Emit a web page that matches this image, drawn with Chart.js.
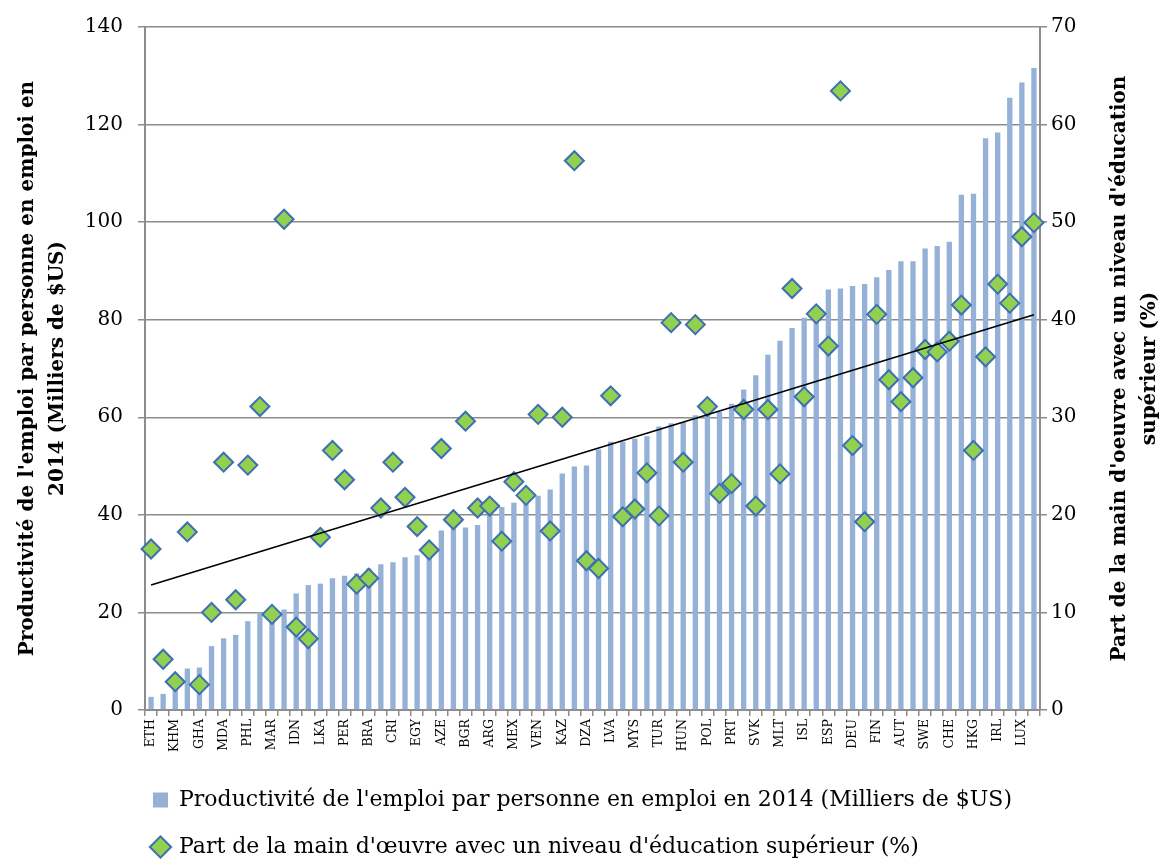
<!DOCTYPE html>
<html><head><meta charset="utf-8">
<script src="https://cdn.jsdelivr.net/npm/chart.js@4.4.1/dist/chart.umd.min.js"></script>
<style>html,body{margin:0;padding:0;background:#fff}</style>
</head><body>
<canvas id="c" width="1164" height="861"></canvas>
<script>
const categories = ["ETH","TZA","KHM","KEN","GHA","VNM","MDA","IND","PHL","BOL","MAR","UKR","IDN","GTM","LKA","ARM","PER","CHN","BRA","COL","CRI","JAM","EGY","SRB","AZE","MKD","BGR","ZAF","ARG","THA","MEX","ROU","VEN","URY","KAZ","RUS","DZA","BLR","LVA","CHL","MYS","HRV","TUR","EST","HUN","LTU","POL","GRC","PRT","KOR","SVK","CZE","MLT","ISR","ISL","GBR","ESP","CAN","DEU","ITA","FIN","FRA","AUT","DNK","SWE","AUS","CHE","BEL","HKG","USA","IRL","NOR","LUX","SGP"];
const productivity = [2.7,3.3,6.5,8.5,8.7,13.1,14.7,15.4,18.2,20.0,20.3,20.6,23.9,25.6,25.9,27.0,27.5,28.0,29.0,29.9,30.3,31.3,31.7,33.5,36.8,37.2,37.4,37.9,40.2,41.6,42.5,43.5,43.9,45.2,48.5,49.9,50.1,53.4,55.0,55.0,55.6,56.1,58.1,58.8,59.0,60.4,60.8,61.1,62.8,65.7,68.6,72.8,75.7,78.3,80.4,81.8,86.2,86.4,86.9,87.3,88.7,90.2,92.0,92.0,94.6,95.1,96.0,105.6,105.8,117.2,118.4,125.5,128.6,131.6];
const tertiaryShare = [16.5,5.2,2.9,18.25,2.6,10.0,25.4,11.3,25.1,31.1,9.8,50.3,8.5,7.3,17.7,26.6,23.6,12.9,13.5,20.7,25.4,21.8,18.8,16.4,26.8,19.5,29.6,20.7,20.9,17.3,23.4,22.0,30.3,18.35,30.0,56.3,15.3,14.5,32.2,19.8,20.6,24.3,19.9,39.7,25.4,39.5,31.1,22.2,23.2,30.8,20.9,30.8,24.2,43.2,32.1,40.6,37.3,63.45,27.1,19.3,40.55,33.85,31.6,34.05,36.95,36.7,37.8,41.5,26.6,36.2,43.65,41.7,48.5,49.95];
const trendEnds = [12.8, 40.5];
const leftTitle = ["Productivité de l'emploi par personne en emploi en", "2014 (Milliers de $US)"];
const rightTitle = ["Part de la main d'oeuvre avec un niveau d'éducation", "supérieur (%)"];
const barLabel = "Productivité de l'emploi par personne en emploi en 2014 (Milliers de $US)";
const dotLabel = "Part de la main d'œuvre avec un niveau d'éducation supérieur (%)";

const trendData = categories.map((_, i) => i === 0 ? trendEnds[0] : (i === categories.length - 1 ? trendEnds[1] : null));

const FONT = '"DejaVu Serif", "Liberation Serif", serif';
Chart.defaults.font.family = FONT;
Chart.defaults.color = '#000';

const rightTitlePlugin = {
  id: 'rightTitle',
  afterLayout(chart) {
    if (chart.legend) { chart.legend.left = 128; }
  },
  afterDraw(chart) {
    const {ctx, chartArea} = chart;
    const s = chart.scales.y1;
    ctx.save();
    ctx.font = 'bold 20px ' + FONT;
    ctx.fillStyle = '#000';
    ctx.textAlign = 'center';
    ctx.textBaseline = 'middle';
    const cy = (chartArea.top + chartArea.bottom) / 2;
    rightTitle.forEach((t, k) => {
      ctx.save();
      ctx.translate(s.right - 44 + 30 * k, cy);
      ctx.rotate(-Math.PI / 2);
      ctx.fillText(t, 0, 0);
      ctx.restore();
    });
    ctx.restore();
  }
};

new Chart(document.getElementById('c'), {
  data: {
    labels: categories,
    datasets: [
      {type: 'line', label: 'trend', data: trendData, yAxisID: 'y1', borderColor: '#000', borderWidth: 1.6,
       pointRadius: 0, spanGaps: true, order: 0},
      {type: 'line', label: dotLabel, data: tertiaryShare, yAxisID: 'y1', showLine: false,
       pointStyle: 'rectRot', pointRadius: 9.5, pointHoverRadius: 9.5, backgroundColor: '#92d050',
       borderColor: '#3f6eb2', pointBorderWidth: 2, borderWidth: 2, order: 1},
      {type: 'bar', label: barLabel, data: productivity, yAxisID: 'y', backgroundColor: '#95b1d7',
       categoryPercentage: 1, barPercentage: 0.44, order: 2}
    ]
  },
  options: {
    responsive: false,
    animation: false,
    layout: {padding: {top: 16, left: 0, right: 0, bottom: -7}},
    plugins: {
      tooltip: {enabled: false},
      legend: {
        position: 'bottom',
        align: 'start',
        reverse: true,
        labels: {
          usePointStyle: true,
          boxWidth: 15, boxHeight: 15,
          padding: 25,
          font: {size: 22},
          color: '#000',
          filter: (item) => item.text !== 'trend',
          generateLabels(chart) {
            const items = Chart.defaults.plugins.legend.labels.generateLabels(chart);
            items.forEach(it => {
              if (it.text === barLabel) { it.pointStyle = 'rect'; it.lineWidth = 0; it.strokeStyle = '#95b1d7'; }
              if (it.text === dotLabel) { it.pointStyle = 'rectRot'; it.fillStyle = '#92d050'; it.strokeStyle = '#3f6eb2'; it.lineWidth = 2; }
            });
            return items;
          }
        }
      }
    },
    scales: {
      x: {
        offset: true,
        grid: {offset: true, drawOnChartArea: false, drawTicks: true, tickLength: 6, color: '#8c8c8c', lineWidth: 1.5},
        border: {color: '#8c8c8c', width: 2},
        ticks: {autoSkip: false, maxRotation: 90, minRotation: 90, padding: 3, font: {size: 12.5}, color: '#000',
          callback: function(v, i) { return i % 2 === 0 ? this.getLabelForValue(v) : ''; }},
        afterFit: s => { s.height = 54; }
      },
      y: {
        position: 'left', min: 0, max: 140,
        ticks: {stepSize: 20, padding: 15, font: {size: 20}, color: '#000'},
        grid: {color: '#8c8c8c', lineWidth: 1.5, tickLength: 7},
        border: {color: '#8c8c8c', width: 2},
        title: {display: true, text: leftTitle, font: {size: 20, weight: 'bold', lineHeight: 1.5}, color: '#000', padding: {top: 13, bottom: 0}},
        afterFit: s => { s.width = 145; }
      },
      y1: {
        position: 'right', min: 0, max: 70,
        ticks: {stepSize: 10, padding: 4, font: {size: 20}, color: '#000'},
        grid: {drawOnChartArea: false, tickLength: 7, color: '#8c8c8c', lineWidth: 1.5},
        border: {color: '#8c8c8c', width: 2},
        afterFit: s => { s.width = 124; }
      }
    }
  },
  plugins: [rightTitlePlugin]
});
</script>
</body></html>
